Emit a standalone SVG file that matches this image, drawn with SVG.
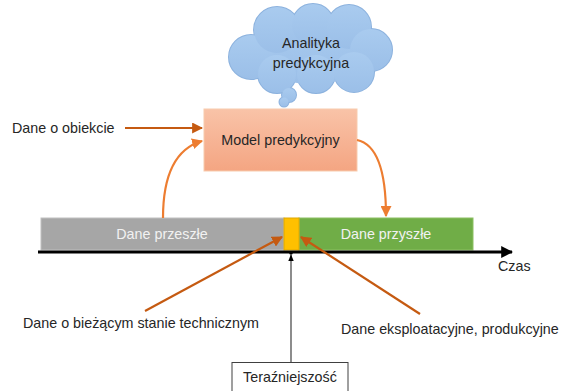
<svg xmlns="http://www.w3.org/2000/svg" width="568" height="391" viewBox="0 0 568 391">
  <defs>
    <linearGradient id="modelFill" x1="0" y1="0" x2="0" y2="1">
      <stop offset="0" stop-color="#f9c3a8"/>
      <stop offset="1" stop-color="#f4a582"/>
    </linearGradient>
    <linearGradient id="cloudFill" x1="0" y1="0" x2="0" y2="1">
      <stop offset="0" stop-color="#a9cbef"/>
      <stop offset="1" stop-color="#9bbfe8"/>
    </linearGradient>
    <marker id="arrOrange" viewBox="0 0 10 10" refX="9" refY="5" markerWidth="5" markerHeight="5" orient="auto">
      <path d="M0,0 L10,5 L0,10 z" fill="#ed7d31"/>
    </marker>
    <marker id="arrDark" viewBox="0 0 10 10" refX="9" refY="5" markerWidth="5" markerHeight="5" orient="auto">
      <path d="M0,0 L10,5 L0,10 z" fill="#c55a11"/>
    </marker>
    <marker id="arrBlack" viewBox="0 0 10 10" refX="9" refY="5" markerWidth="4" markerHeight="4" orient="auto">
      <path d="M0,0 L10,5 L0,10 z" fill="#000"/>
    </marker>
    <marker id="arrSmall" viewBox="0 0 10 10" refX="9" refY="5" markerWidth="6" markerHeight="6" orient="auto">
      <path d="M0,1 L10,5 L0,9 z" fill="#000"/>
    </marker>
  </defs>
  <style>
    text { font-family: "Liberation Sans", Arial, sans-serif; font-size: 14.3px; fill: #262626; }
    .mid { text-anchor: middle; }
    .light { fill: #f2f2f2; }
    .cloudEdge { fill: none; stroke: #8cb2de; stroke-width: 2; }
    .cloudBody { fill: url(#cloudFill); stroke: none; }
  </style>

  <rect width="568" height="391" fill="#fff"/>

  <!-- cloud -->
  <g id="cloud">
    <g class="cloudEdge">
      <circle cx="251" cy="57" r="22"/>
      <circle cx="277" cy="30" r="23"/>
      <circle cx="313" cy="25" r="21"/>
      <circle cx="349" cy="27" r="22"/>
      <circle cx="371" cy="50" r="21"/>
      <circle cx="354" cy="72" r="20"/>
      <circle cx="316" cy="74" r="19"/>
      <circle cx="277" cy="74" r="19"/>
      <circle cx="289" cy="95" r="7"/>
      <circle cx="284" cy="102" r="4.5"/>
    </g>
    <g class="cloudBody">
      <ellipse cx="311" cy="52" rx="62" ry="32"/>
      <circle cx="251" cy="57" r="22"/>
      <circle cx="277" cy="30" r="23"/>
      <circle cx="313" cy="25" r="21"/>
      <circle cx="349" cy="27" r="22"/>
      <circle cx="371" cy="50" r="21"/>
      <circle cx="354" cy="72" r="20"/>
      <circle cx="316" cy="74" r="19"/>
      <circle cx="277" cy="74" r="19"/>
      <circle cx="289" cy="95" r="7"/>
      <circle cx="284" cy="102" r="4.5"/>
    </g>
    <text class="mid" x="311" y="48">Analityka</text>
    <text class="mid" x="311" y="68">predykcyjna</text>
  </g>

  <!-- model -->
  <g id="model">
    <rect x="204" y="109" width="153" height="62" fill="url(#modelFill)" stroke="#f8cbad" stroke-width="1"/>
    <text class="mid" x="280.5" y="145">Model predykcyjny</text>
  </g>

  <!-- timeline -->
  <g id="past">
    <rect x="41" y="218" width="243" height="32" fill="#a6a6a6" stroke="#bfbfbf" stroke-width="1"/>
    <text class="mid light" x="162" y="239">Dane przeszłe</text>
  </g>
  <g id="future">
    <rect x="299" y="218" width="174" height="32" fill="#70ad47" stroke="#8cc063" stroke-width="1"/>
    <text class="mid light" x="386" y="239">Dane przyszłe</text>
  </g>
  <g id="now">
    <rect x="284" y="218" width="15" height="32" fill="#ffc000" stroke="#e0a800" stroke-width="1"/>
  </g>
  <g id="axis">
    <line x1="38" y1="252" x2="512" y2="252" stroke="#000" stroke-width="3" marker-end="url(#arrBlack)"/>
    <circle cx="291" cy="253" r="1.8" fill="#000"/>
    <text x="498" y="271">Czas</text>
  </g>

  <!-- connectors -->
  <g id="connectors" fill="none">
    <line x1="125" y1="128" x2="202" y2="128" stroke="#c55a11" stroke-width="2.2" marker-end="url(#arrDark)"/>
    <path d="M163,218 C163,172 178,148 202,141" stroke="#ed7d31" stroke-width="2.2" marker-end="url(#arrOrange)"/>
    <path d="M357,140 C376,144 386,170 386,216" stroke="#ed7d31" stroke-width="2.2" marker-end="url(#arrOrange)"/>
    <line x1="145" y1="311" x2="282" y2="237" stroke="#c55a11" stroke-width="2.2" marker-end="url(#arrDark)"/>
    <line x1="420" y1="314" x2="301" y2="237" stroke="#c55a11" stroke-width="2.2" marker-end="url(#arrDark)"/>
    <line x1="291" y1="362" x2="291" y2="255" stroke="#404040" stroke-width="1.2" marker-end="url(#arrSmall)"/>
  </g>

  <!-- labels -->
  <g id="objectData">
    <text x="12" y="133">Dane o obiekcie</text>
  </g>
  <g id="techState">
    <text x="23" y="328">Dane o bieżącym stanie technicznym</text>
  </g>
  <g id="operationData">
    <text x="341" y="334">Dane eksploatacyjne, produkcyjne</text>
  </g>
  <g id="present">
    <rect x="232" y="362.5" width="116" height="35" fill="#fff" stroke="#404040" stroke-width="1"/>
    <text class="mid" x="290" y="382">Teraźniejszość</text>
  </g>
</svg>
